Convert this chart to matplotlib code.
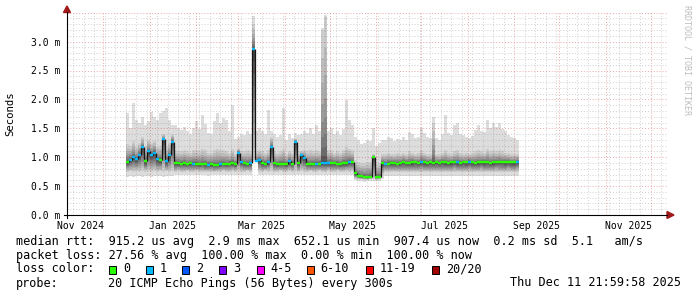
import numpy as np
import pandas as pd
import matplotlib
matplotlib.use('Agg')
import matplotlib.pyplot as plt
import matplotlib.dates as mdates
from matplotlib.patches import Rectangle, Polygon

plt.rcParams['font.family'] = ['DejaVu Sans Mono']

# ---------------- data (2-day buckets starting 2024-12-16) ----------------
bucket_start = '2024-12-16'

median_ms = [
    0.92, 0.96, 1.01, 0.97, 1.04, 1.17, 0.93, 1.10, 1.04, 1.08, 0.97, 0.95, 1.31, 0.93, 1.03, 1.27,
    0.90, 0.90, 0.89, 0.90, 0.88, 0.90, 0.89, 0.89, 0.88, 0.89, 0.88, 0.87, 0.88, 0.87, 0.87, 0.88,
    0.89, 0.88, 0.89, 0.90, 0.88,
    1.08, 0.92, 0.90, 0.88, 0.90, 2.87, 0.93, 0.95, 0.90, 0.89, 0.92, 1.18, 0.90, 0.88, 0.89, 0.89,
    0.88, 0.93, 0.89, 1.27, 0.90, 1.03, 0.98, 0.89, 0.88, 0.89, 0.89, 0.89, 0.90, 0.90, 0.90, 0.90,
    0.90, 0.89, 0.88, 0.90, 0.90, 0.92, 0.92,
    0.72, 0.68, 0.67, 0.66, 0.65, 0.66, 1.00, 0.66, 0.66, 0.90,
    0.89, 0.89, 0.90, 0.90, 0.89, 0.90, 0.91, 0.90, 0.90, 0.91,
    0.91, 0.90, 0.92, 0.91, 0.90, 0.91, 0.90, 0.91, 0.90, 0.91,
    0.91, 0.90, 0.91, 0.92, 0.91, 0.90, 0.91, 0.91, 0.92, 0.91,
    0.90, 0.91, 0.92, 0.91, 0.91, 0.90, 0.91, 0.92, 0.92, 0.91,
    0.91, 0.92, 0.91, 0.91, 0.92,
]

loss_count = [
    0, 1, 1, 1, 1, 1, 0, 1, 1, 1, 1, 0, 1, 1, 1, 1,
    0, 0, 0, 0, 0, 0, 1, 0, 0, 0, 0, 1, 0, 0, 0, 1, 0, 0, 0, 0, 0,
    1, 1, 0, 0, 1, 1, 1, 1, 0, 0, 1, 1, 0, 0, 0, 0, 0, 1, 0, 1, 0, 1, 1, 0,
    0, 0, 1, 0, 1, 1, 1, 0, 0, 0, 0, 0, 0, 1, 0,
    0, 0, 0, 0, 0, 0, 0, 0, 0, 0,
    1, 0, 0, 0, 0, 0, 0, 0, 0, 0,
    0, 0, 1, 0, 0, 0, 0, 0, 0, 0,
    0, 0, 0, 0, 1, 0, 0, 0, 1, 0,
    0, 0, 0, 0, 0, 0, 0, 0, 0, 0,
    0, 0, 0, 0, 1,
]

smoke_max = [
    1.76, 1.50, 1.93, 1.64, 1.60, 1.70, 1.56, 1.62, 1.79, 1.70, 1.65, 1.76, 1.80, 1.85, 1.64, 1.56,
    1.56, 1.50, 1.47, 1.52, 1.45, 1.40, 1.50, 1.62, 1.48, 1.73, 1.58, 1.42, 1.40, 1.62, 1.76, 1.60,
    1.68, 1.64, 1.45, 1.90, 1.32,
    1.35, 1.40, 1.38, 1.45, 1.40, 3.45, 1.45, 1.50, 1.45, 1.40, 1.82, 1.45, 1.40, 1.35, 1.38, 1.85,
    1.30, 1.40, 1.33, 1.42, 1.38, 1.40, 1.45, 1.42, 1.50, 1.40, 1.55, 1.45, 3.23, 3.46, 1.45, 1.50,
    1.40, 1.45, 1.38, 1.48, 1.99, 1.64, 1.55,
    1.35, 1.30, 1.22, 1.25, 1.30, 1.28, 1.50, 1.20, 1.25, 1.30,
    1.30, 1.35, 1.33, 1.28, 1.32, 1.30, 1.35, 1.30, 1.44, 1.40,
    1.33, 1.35, 1.50, 1.42, 1.35, 1.33, 1.70, 1.33, 1.30, 1.40,
    1.73, 1.42, 1.38, 1.56, 1.60, 1.40, 1.38, 1.35, 1.33, 1.36,
    1.47, 1.55, 1.45, 1.44, 1.64, 1.50, 1.59, 1.52, 1.60, 1.48,
    1.45, 1.38, 1.35, 1.33, 1.30,
]

smoke_min = [
    0.66, 0.67, 0.66, 0.68, 0.67, 0.66, 0.68, 0.67, 0.66, 0.67, 0.68, 0.67, 0.66, 0.68, 0.67, 0.68,
    0.69, 0.70, 0.69, 0.70, 0.70, 0.69, 0.70, 0.70, 0.69, 0.70, 0.69, 0.68, 0.69, 0.70, 0.69, 0.69,
    0.70, 0.69, 0.70, 0.69, 0.70,
    0.69, 0.70, 0.69, 0.70, 0.70, 0.92, 0.91, 0.70, 0.69, 0.70, 0.69, 0.70, 0.69, 0.70, 0.69, 0.70,
    0.70, 0.69, 0.70, 0.69, 0.70, 0.69, 0.70, 0.69, 0.70, 0.70, 0.69, 0.70, 0.69, 0.70, 0.69, 0.70,
    0.69, 0.70, 0.70, 0.69, 0.70, 0.69, 0.70,
    0.60, 0.58, 0.58, 0.57, 0.58, 0.58, 0.59, 0.58, 0.58, 0.62,
    0.68, 0.68, 0.67, 0.68, 0.68, 0.67, 0.68, 0.68, 0.67, 0.68,
    0.68, 0.67, 0.68, 0.68, 0.67, 0.68, 0.68, 0.67, 0.68, 0.68,
    0.67, 0.68, 0.68, 0.67, 0.68, 0.68, 0.67, 0.68, 0.68, 0.67,
    0.68, 0.68, 0.67, 0.68, 0.68, 0.67, 0.68, 0.68, 0.67, 0.68,
    0.68, 0.67, 0.68, 0.68, 0.67,
]

smoke_low = [
    0.75, 0.76, 0.75, 0.76, 0.75, 0.76, 0.75, 0.76, 0.75, 0.76, 0.75, 0.76, 0.75, 0.76, 0.75, 0.76,
    0.75, 0.76, 0.75, 0.75, 0.76, 0.75, 0.75, 0.76, 0.75, 0.75, 0.74, 0.75, 0.75, 0.74, 0.75, 0.75,
    0.76, 0.75, 0.75, 0.76, 0.75,
    0.76, 0.75, 0.75, 0.76, 0.75, 0.95, 0.92, 0.75, 0.75, 0.76, 0.75, 0.76, 0.75, 0.75, 0.76, 0.75,
    0.75, 0.76, 0.75, 0.76, 0.75, 0.76, 0.75, 0.75, 0.76, 0.75, 0.75, 0.76, 0.75, 0.75, 0.76, 0.75,
    0.75, 0.76, 0.75, 0.75, 0.76, 0.75, 0.76,
    0.63, 0.62, 0.62, 0.61, 0.61, 0.62, 0.62, 0.61, 0.62, 0.70,
    0.74, 0.75, 0.74, 0.75, 0.74, 0.74, 0.75, 0.74, 0.75, 0.74,
    0.75, 0.74, 0.75, 0.74, 0.74, 0.75, 0.74, 0.75, 0.74, 0.75,
    0.74, 0.75, 0.74, 0.75, 0.74, 0.74, 0.75, 0.74, 0.75, 0.74,
    0.75, 0.74, 0.75, 0.74, 0.75, 0.74, 0.74, 0.75, 0.74, 0.75,
    0.74, 0.75, 0.74, 0.74, 0.75,
]

smoke_high = [
    1.22, 1.20, 1.28, 1.18, 1.25, 1.35, 1.20, 1.30, 1.25, 1.28, 1.18, 1.20, 1.40, 1.18, 1.25, 1.40,
    1.12, 1.10, 1.10, 1.12, 1.10, 1.08, 1.12, 1.12, 1.10, 1.14, 1.12, 1.08, 1.08, 1.12, 1.14, 1.12,
    1.12, 1.10, 1.08, 1.15, 1.05,
    1.15, 1.10, 1.10, 1.12, 1.10, 3.30, 1.10, 1.12, 1.10, 1.08, 1.12, 1.35, 1.10, 1.08, 1.10, 1.15,
    1.05, 1.10, 1.08, 1.32, 1.10, 1.10, 1.12, 1.10, 1.12, 1.10, 1.12, 1.10, 3.20, 3.42, 1.12, 1.12,
    1.08, 1.10, 1.08, 1.12, 1.18, 1.15, 1.12,
    0.95, 0.92, 0.90, 0.90, 0.92, 0.92, 1.05, 0.88, 0.90, 1.05,
    1.05, 1.08, 1.06, 1.05, 1.07, 1.06, 1.08, 1.05, 1.10, 1.08,
    1.06, 1.07, 1.12, 1.08, 1.06, 1.05, 1.60, 1.06, 1.05, 1.08,
    1.12, 1.08, 1.06, 1.10, 1.12, 1.08, 1.06, 1.07, 1.06, 1.07,
    1.10, 1.12, 1.10, 1.08, 1.14, 1.10, 1.12, 1.10, 1.12, 1.10,
    1.08, 1.07, 1.06, 1.06, 1.05,
]

ytick_values = [0.0, 0.5, 1.0, 1.5, 2.0, 2.5, 3.0]
ytick_labels = ['0.0 m', '0.5 m', '1.0 m', '1.5 m', '2.0 m', '2.5 m', '3.0 m']

loss_labels = ['0', '1', '2', '3', '4-5', '6-10', '11-19', '20/20']
loss_colors = ['#26ff00', '#00b8ff', '#0059ff', '#7e00ff', '#ff00ff', '#ff5500', '#ff0000', '#a10000']
loss_upper = [0, 1, 2, 3, 5, 10, 19, 20]

legend_line1 = 'median rtt:  915.2 us avg  2.9 ms max  652.1 us min  907.4 us now  0.2 ms sd  5.1   am/s'
legend_line2 = 'packet loss: 27.56 % avg  100.00 % max  0.00 % min  100.00 % now'
probe_text = '20 ICMP Echo Pings (56 Bytes) every 300s'
stamp_text = 'Thu Dec 11 21:59:58 2025'
end_time = pd.Timestamp('2025-12-11 21:59:58')
span_days = 400

# ---------------- figure ----------------
W, H = 697, 297
fig = plt.figure(figsize=(W / 100, H / 100), dpi=100)
fig.patch.set_facecolor('white')


def fx(xp):
    return xp / W


def fy(yp):
    return 1 - yp / H


AX_L, AX_R, AX_B, AX_T = 67, 667, 215, 12.7
ax = fig.add_axes([fx(AX_L), fy(AX_B), (AX_R - AX_L) / W, (AX_B - AX_T) / H])
ax.set_facecolor('white')
start_time = end_time - pd.Timedelta(days=span_days)
ax.set_xlim(mdates.date2num(start_time), mdates.date2num(end_time))
ax.set_ylim(0, 3.5)
for s in ax.spines.values():
    s.set_visible(False)

MIN_C = '#707070'
MIN_A = 0.33
MAJ_C = '#c80000'
MAJ_A = 0.35
DOT = (0, (1, 2))
GZ = 3.5  # grid drawn over the smoke, under the median line

# horizontal grid
for v in range(1, 35):
    if v % 5 == 0:
        continue
    ax.axhline(v / 10, color=MIN_C, alpha=MIN_A, lw=0.7, ls=DOT, zorder=GZ)
for v in ytick_values[1:]:
    ax.axhline(v, color=MAJ_C, alpha=MAJ_A, lw=0.7, ls=DOT, zorder=GZ)
ax.axhline(3.5, color=MAJ_C, alpha=MAJ_A, lw=0.7, ls=DOT, zorder=GZ)

# vertical grid
mondays = pd.date_range('2024-11-11', end_time, freq='7D')
months = pd.date_range('2024-12-01', end_time, freq='MS')
month_nums = set(np.round(mdates.date2num(months), 3))
for d in mondays:
    if np.round(mdates.date2num(d), 3) in month_nums:
        continue
    ax.axvline(mdates.date2num(d), color=MIN_C, alpha=MIN_A, lw=0.7, ls=DOT, zorder=GZ)
for d in months:
    ax.axvline(mdates.date2num(d), color=MAJ_C, alpha=MAJ_A, lw=0.7, ls=DOT, zorder=GZ)

# ---------------- smoke ----------------
med = np.array(median_ms)
lo = np.array(smoke_low)
hi = np.array(smoke_high)
mn = np.array(smoke_min)
mx = np.array(smoke_max)
n = len(med)
dates = pd.date_range(bucket_start, periods=n + 1, freq='2D')
xd = mdates.date2num(dates)


def ext(a):
    return np.append(a, a[-1])


def sfill(a, b, color, z=2):
    ax.fill_between(xd, ext(a), ext(b), step='post', color=color, lw=0, zorder=z)


sfill(mn, mx, '#dddddd')
NL = 9
for j in range(NL):
    t = j / NL
    a = med - (med - lo) * (1 - t)
    b = med + (hi - med) * (1 - t) ** 2
    g = 0.80 - 0.52 * (j / (NL - 1))
    sfill(a, b, (g, g, g), z=2 + j * 0.01)

# ---------------- median line ----------------
def loss_color(c):
    for up, col in zip(loss_upper, loss_colors):
        if c <= up:
            return col
    return loss_colors[-1]


cols = [loss_color(c) for c in loss_count]
ax.vlines(xd[1:-1], np.minimum(med[:-1], med[1:]), np.maximum(med[:-1], med[1:]),
          color='#151515', lw=0.9, zorder=4)
ax.hlines(med, xd[:-1], xd[1:], colors=cols, lw=1.7, zorder=5)

# ---------------- ticks ----------------
label_months = pd.date_range('2024-11-01', '2025-11-01', freq='2MS')
centers = [m + ((m + pd.offsets.MonthBegin(1)) - m) / 2 for m in label_months]
ax.set_xticks(mdates.date2num(centers))
ax.set_xticklabels([m.strftime('%b %Y') for m in label_months])
ax.tick_params(axis='x', length=0, pad=4.5, labelsize=7, colors='black')
ax.set_yticks(ytick_values)
ax.set_yticklabels(ytick_labels)
ax.tick_params(axis='y', length=0, pad=5, labelsize=7, colors='black')

# axes lines and arrows
fig.add_artist(plt.Line2D([fx(64), fx(667)], [fy(215), fy(215)], color='black', lw=0.8))
fig.add_artist(plt.Line2D([fx(67), fx(67)], [fy(218), fy(12)], color='black', lw=0.8))
fig.add_artist(Polygon([(fx(667), fy(211.5)), (fx(667), fy(218.5)), (fx(674), fy(215))],
                       closed=True, color='#a01818', transform=fig.transFigure))
fig.add_artist(Polygon([(fx(63.5), fy(12.5)), (fx(70.5), fy(12.5)), (fx(67), fy(6))],
                       closed=True, color='#a01818', transform=fig.transFigure))

# labels
fig.text(fx(10), fy(114), 'Seconds', rotation=90, ha='center', va='center', fontsize=7.7)
fig.text(fx(687.5), fy(5), 'RRDTOOL / TOBI OETIKER', rotation=270, ha='center', va='top',
         fontsize=6, color='#bdbdbd')

# ---------------- legend ----------------
LFS = 8.5
fig.text(fx(16), fy(241), legend_line1, ha='left', va='center', fontsize=LFS)
fig.text(fx(16), fy(255), legend_line2, ha='left', va='center', fontsize=LFS)
fig.text(fx(16), fy(269), 'loss color:', ha='left', va='center', fontsize=LFS)
sq_x = [109, 145.7, 182.3, 219, 256.7, 306.7, 365.7, 431.7]
for sx, lab, col in zip(sq_x, loss_labels, loss_colors):
    fig.add_artist(Rectangle((fx(sx), fy(273.5)), 7 / W, 8 / H, transform=fig.transFigure,
                             facecolor=col, edgecolor='black', lw=0.7))
    fig.text(fx(sx + 14), fy(269), lab, ha='left', va='center', fontsize=LFS)
fig.text(fx(16), fy(283), 'probe:', ha='left', va='center', fontsize=LFS)
fig.text(fx(108), fy(283), probe_text, ha='left', va='center', fontsize=LFS)
fig.text(fx(681), fy(283), stamp_text, ha='right', va='center', fontsize=LFS)

fig.savefig('out.png', dpi=100, facecolor='white')
